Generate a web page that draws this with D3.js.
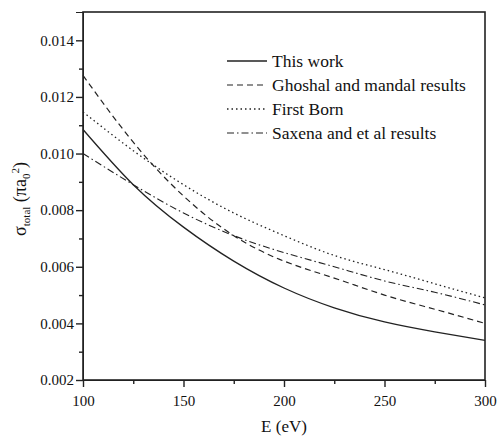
<!DOCTYPE html>
<html>
<head>
    <style>
        body { margin: 0; background: #fff; }
        text { font-family: "Liberation Serif", serif; }
        .axis path, .axis line { stroke: #222; }
    </style>
</head>
<body>
    <div id="chart"></div>
    <script src="https://d3js.org/d3.v7.min.js"></script>
    <script>
        // energies (eV)
        var energy = [100, 125, 150, 175, 200, 225, 250, 275, 300];
        // total cross sections (pi a0^2)
        var thisWork = [0.01085, 0.0089, 0.0074, 0.0062, 0.00525, 0.00455, 0.00405, 0.0037, 0.0034];
        var ghoshal = [0.01276, 0.0104, 0.0085, 0.0071, 0.0062, 0.0056, 0.0050, 0.0045, 0.0040];
        var firstBorn = [0.01147, 0.0101, 0.0089, 0.0079, 0.0071, 0.0064, 0.0059, 0.0054, 0.0049];
        var saxena = [0.0100, 0.0089, 0.0079, 0.0071, 0.0065, 0.0060, 0.0055, 0.0051, 0.00465];
        var seriesNames = ["This work", "Ghoshal and mandal results", "First Born", "Saxena and et al results"];
        var xTicks = [100, 150, 200, 250, 300];
        var yTicks = [0.002, 0.004, 0.006, 0.008, 0.010, 0.012, 0.014];

        var width = 500, height = 440;
        var margin = { top: 12, right: 15, bottom: 60, left: 83 };
        var serif = "Liberation Serif";

        var svg = d3.select("#chart").append("svg")
            .attr("width", width)
            .attr("height", height)
            .attr("font-family", serif);

        var x = d3.scaleLinear().domain([100, 300]).range([margin.left, width - margin.right]);
        var y = d3.scaleLinear().domain([0.002, 0.015]).range([height - margin.bottom, margin.top]);

        // minor ticks
        var xMinor = d3.range(125, 300, 50);
        var yMinor = d3.range(0.003, 0.015, 0.002);

        var xAxis = svg.append("g").attr("class", "axis")
            .attr("transform", "translate(0," + y.range()[0] + ")")
            .call(d3.axisBottom(x).tickValues(xTicks).tickSize(7).tickFormat(d3.format("d")));
        svg.append("g").attr("class", "axis")
            .attr("transform", "translate(0," + y.range()[0] + ")")
            .call(d3.axisBottom(x).tickValues(xMinor).tickSize(4).tickFormat(""))
            .select(".domain").remove();

        var yAxis = svg.append("g").attr("class", "axis")
            .attr("transform", "translate(" + x.range()[0] + ",0)")
            .call(d3.axisLeft(y).tickValues(yTicks).tickSize(7).tickFormat(d3.format(".3f")));
        svg.append("g").attr("class", "axis")
            .attr("transform", "translate(" + x.range()[0] + ",0)")
            .call(d3.axisLeft(y).tickValues(yMinor).tickSize(4).tickFormat(""))
            .select(".domain").remove();

        svg.selectAll(".axis")
            .attr("font-family", serif)
            .attr("font-size", 15);
        svg.selectAll(".axis text").attr("fill", "#111");
        svg.selectAll(".axis line").attr("stroke-width", 1.4);
        xAxis.selectAll("text").attr("dy", "1.05em");
        yAxis.selectAll("text").attr("x", -9);

        // frame
        svg.append("rect")
            .attr("x", x.range()[0])
            .attr("y", y.range()[1])
            .attr("width", x.range()[1] - x.range()[0])
            .attr("height", y.range()[0] - y.range()[1])
            .attr("fill", "none")
            .attr("stroke", "#222")
            .attr("stroke-width", 1.6);

        var styles = [
            { dash: null, w: 1.3 },
            { dash: "6,4", w: 1.2 },
            { dash: "1.5,3", w: 1.3 },
            { dash: "7,3,1.5,3", w: 1.1 }
        ];
        var allSeries = [thisWork, ghoshal, firstBorn, saxena];

        var line = d3.line()
            .x(function (d, i) { return x(energy[i]); })
            .y(function (d) { return y(d); })
            .curve(d3.curveNatural);

        svg.selectAll(".series")
            .data(allSeries)
            .enter().append("path")
            .attr("class", "series")
            .attr("d", line)
            .attr("fill", "none")
            .attr("stroke", "#222")
            .attr("stroke-width", function (d, i) { return styles[i].w; })
            .attr("stroke-dasharray", function (d, i) { return styles[i].dash; });

        // legend
        var legend = svg.append("g").attr("transform", "translate(227,61)");
        seriesNames.forEach(function (name, i) {
            var g = legend.append("g").attr("transform", "translate(0," + (i * 24) + ")");
            g.append("line")
                .attr("x1", 0).attr("x2", 40)
                .attr("y1", 0).attr("y2", 0)
                .attr("stroke", "#222")
                .attr("stroke-width", styles[i].w)
                .attr("stroke-dasharray", styles[i].dash);
            g.append("text")
                .attr("x", 45)
                .attr("y", 6)
                .attr("fill", "#111")
                .attr("font-family", serif)
                .attr("font-size", 17.5)
                .text(name);
        });

        // axis titles
        svg.append("text")
            .attr("x", (x.range()[0] + x.range()[1]) / 2)
            .attr("y", 432)
            .attr("text-anchor", "middle")
            .attr("fill", "#111")
            .attr("font-family", serif)
            .attr("font-size", 17)
            .text("E (eV)");

        var yt = svg.append("text")
            .attr("transform", "translate(26," + ((y.range()[0] + y.range()[1]) / 2 + 3) + ") rotate(-90)")
            .attr("text-anchor", "middle")
            .attr("fill", "#111")
            .attr("font-family", serif)
            .attr("font-size", 18);
        yt.append("tspan").text("σ");
        yt.append("tspan").attr("dy", 4).attr("font-size", 11).text("total");
        yt.append("tspan").attr("dy", -4).text(" (πa");
        yt.append("tspan").attr("dy", 4).attr("font-size", 11).text("0");
        yt.append("tspan").attr("dy", -11).attr("font-size", 11).text("2");
        yt.append("tspan").attr("dy", 7).text(")");
    </script>
</body>
</html>
